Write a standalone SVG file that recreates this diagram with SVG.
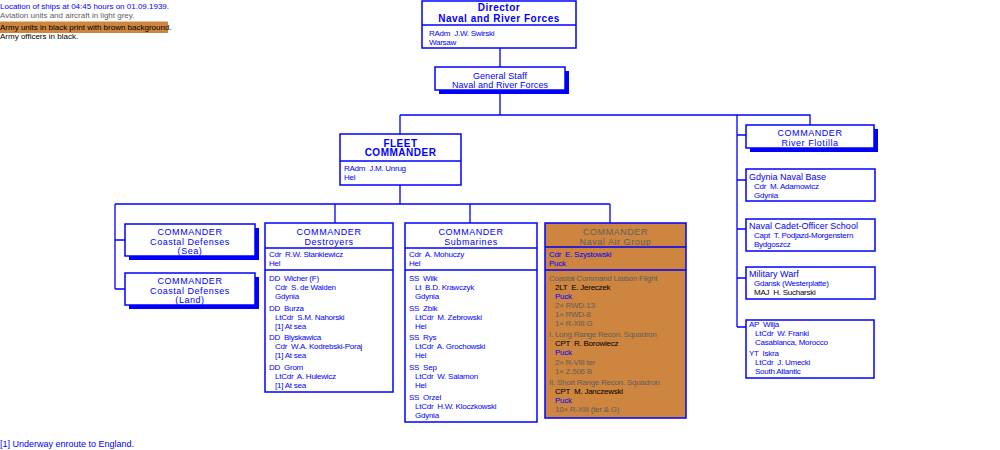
<svg xmlns="http://www.w3.org/2000/svg" width="1000" height="450" viewBox="0 0 1000 450">
<style>
text{font-family:"Liberation Sans",Arial,sans-serif;fill:#00f;white-space:pre}
.lg{font-size:8px}
.ft{font-size:9px}
.tb{font-size:10px;font-weight:bold;text-anchor:middle;letter-spacing:.5px}
.t{font-size:9px;text-anchor:middle;letter-spacing:.55px}
.ts{font-size:9px;text-anchor:middle;letter-spacing:.1px}
.h{font-size:9px}
.b{font-size:8px;letter-spacing:-.25px}
.k{fill:#000}
.g{fill:#606060}
.box{fill:#fff;stroke:#00f;stroke-width:1.5}
.brn{fill:#CD853F;stroke:#00f;stroke-width:1.5}
.sh{fill:#00f}
.dv{stroke:#00f;stroke-width:1.5}
</style>

<g id="legend">
<text class="lg" x="0" y="9">Location of ships at 04:45 hours on 01.09.1939.</text>
<text class="lg g" x="0" y="18">Aviation units and aircraft in light grey.</text>
<rect x="0" y="21.5" width="168" height="11.5" fill="#CD853F"/>
<text class="lg k" x="0" y="29.5">Army units in black print with brown background.</text>
<text class="lg k" x="0" y="38.5">Army officers in black.</text>
</g>

<g id="connectors" stroke="#00f" stroke-width="1.3" fill="none">
<path d="M500 48V67M500 90V115M400 115H810V125M737 115V327M737 135H746M737 180H746M737 229H746M737 278H746M737 327H746"/>
<path d="M400 115V134M400 185V204M115 204H610M115 204V289M115 240H125M115 289H125M335 204V223M470 204V223M610 204V223"/>
</g>

<g id="director">
<rect class="box" x="422" y="1" width="154" height="47"/>
<line class="dv" x1="422" y1="25" x2="576" y2="25"/>
<text class="tb" x="499" y="11">Director</text>
<text class="tb" x="499" y="21.5">Naval and River Forces</text>
<text class="b" x="429" y="36">RAdm  J.W. Swirski</text>
<text class="b" x="429" y="45">Warsaw</text>
</g>

<g id="general-staff">
<rect class="sh" x="439" y="71" width="130" height="23"/>
<rect class="box" x="435" y="67" width="130" height="23"/>
<text class="ts" x="500" y="79">General Staff</text>
<text class="ts" x="500" y="88">Naval and River Forces</text>
</g>

<g id="fleet-commander">
<rect class="box" x="340" y="134" width="121" height="51"/>
<line class="dv" x1="340" y1="161" x2="461" y2="161"/>
<text class="tb" x="400.5" y="146.5">FLEET</text>
<text class="tb" x="400.5" y="156">COMMANDER</text>
<text class="b" x="344" y="171">RAdm  J.M. Unrug</text>
<text class="b" x="344" y="180">Hel</text>
</g>

<g id="coastal-sea">
<rect class="sh" x="129" y="228" width="130" height="32"/>
<rect class="box" x="125" y="224" width="130" height="32"/>
<text class="t" x="190" y="235">COMMANDER</text>
<text class="t" x="190" y="244.5">Coastal Defenses</text>
<text class="t" x="190" y="254">(Sea)</text>
</g>

<g id="coastal-land">
<rect class="sh" x="129" y="277" width="130" height="32"/>
<rect class="box" x="125" y="273" width="130" height="32"/>
<text class="t" x="190" y="284">COMMANDER</text>
<text class="t" x="190" y="293.5">Coastal Defenses</text>
<text class="t" x="190" y="303">(Land)</text>
</g>

<g id="destroyers">
<rect class="box" x="265" y="223" width="128" height="169"/>
<line class="dv" x1="265" y1="248" x2="393" y2="248"/>
<line class="dv" x1="265" y1="270" x2="393" y2="270"/>
<text class="t" x="329" y="235">COMMANDER</text>
<text class="t" x="329" y="244.5">Destroyers</text>
<text class="b" x="269" y="257">Cdr  R.W. Stankiewicz</text>
<text class="b" x="269" y="266">Hel</text>
<text class="b" x="269" y="281">DD  Wicher (F)</text>
<text class="b" x="275" y="290">Cdr  S. de Walden</text>
<text class="b" x="275" y="299">Gdynia</text>
<text class="b" x="269" y="310.5">DD  Burza</text>
<text class="b" x="275" y="319.5">LtCdr  S.M. Nahorski</text>
<text class="b" x="275" y="328.5">[1] At sea</text>
<text class="b" x="269" y="340">DD  Blyskawica</text>
<text class="b" x="275" y="349">Cdr  W.A. Kodrebski-Poraj</text>
<text class="b" x="275" y="358">[1] At sea</text>
<text class="b" x="269" y="370">DD  Grom</text>
<text class="b" x="275" y="379">LtCdr  A. Hulewicz</text>
<text class="b" x="275" y="388">[1] At sea</text>
</g>

<g id="submarines">
<rect class="box" x="405" y="223" width="132" height="199"/>
<line class="dv" x1="405" y1="248" x2="537" y2="248"/>
<line class="dv" x1="405" y1="270" x2="537" y2="270"/>
<text class="t" x="471" y="235">COMMANDER</text>
<text class="t" x="471" y="244.5">Submarines</text>
<text class="b" x="409" y="257">Cdr  A. Mohuczy</text>
<text class="b" x="409" y="266">Hel</text>
<text class="b" x="409" y="281">SS  Wilk</text>
<text class="b" x="415" y="290">Lt  B.D. Krawczyk</text>
<text class="b" x="415" y="299">Gdynia</text>
<text class="b" x="409" y="310.5">SS  Zbik</text>
<text class="b" x="415" y="319.5">LtCdr  M. Zebrowski</text>
<text class="b" x="415" y="328.5">Hel</text>
<text class="b" x="409" y="340">SS  Rys</text>
<text class="b" x="415" y="349">LtCdr  A. Grochowski</text>
<text class="b" x="415" y="358">Hel</text>
<text class="b" x="409" y="370">SS  Sep</text>
<text class="b" x="415" y="379">LtCdr  W. Salamon</text>
<text class="b" x="415" y="388">Hel</text>
<text class="b" x="409" y="400">SS  Orzel</text>
<text class="b" x="415" y="409">LtCdr  H.W. Kloczkowski</text>
<text class="b" x="415" y="418">Gdynia</text>
</g>

<g id="naval-air-group">
<rect class="brn" x="545" y="223" width="141" height="195"/>
<line class="dv" x1="545" y1="247" x2="686" y2="247"/>
<line class="dv" x1="545" y1="270" x2="686" y2="270"/>
<text class="t g" x="615.5" y="235">COMMANDER</text>
<text class="t g" x="615.5" y="244.5">Naval Air Group</text>
<text class="b" x="549" y="257">Cdr  E. Szystowski</text>
<text class="b" x="549" y="266">Puck</text>
<text class="b g" x="549" y="281">Coastal Command Liaison Flight</text>
<text class="b k" x="555" y="290">2LT  E. Jereczek</text>
<text class="b" x="555" y="299">Puck</text>
<text class="b g" x="555" y="308">2× RWD-13</text>
<text class="b g" x="555" y="317">1× RWD-8</text>
<text class="b g" x="555" y="326">1× R-XIII G</text>
<text class="b g" x="549" y="337">I. Long Range Recon. Squadron</text>
<text class="b k" x="555" y="346">CPT  R. Borowiecz</text>
<text class="b" x="555" y="355">Puck</text>
<text class="b g" x="555" y="364.5">2× R-VIII ter</text>
<text class="b g" x="555" y="373.5">1× Z.506 B</text>
<text class="b g" x="549" y="385">II. Short Range Recon. Squadron</text>
<text class="b k" x="555" y="394">CPT  M. Janczewski</text>
<text class="b" x="555" y="403">Puck</text>
<text class="b g" x="555" y="412">10× R-XIII (ter &amp; G)</text>
</g>

<g id="river-flotilla">
<rect class="sh" x="750" y="129" width="128" height="23"/>
<rect class="box" x="746" y="125" width="128" height="23"/>
<text class="t" x="810" y="136">COMMANDER</text>
<text class="t" x="810" y="145.5">River Flotilla</text>
</g>

<g id="gdynia-naval-base">
<rect class="box" x="746" y="169" width="129" height="32"/>
<text class="h" x="749" y="179.5">Gdynia Naval Base</text>
<text class="b" x="754" y="188.5">Cdr  M. Adamowicz</text>
<text class="b" x="754" y="197.5">Gdynia</text>
</g>

<g id="naval-cadet-school">
<rect class="box" x="746" y="219" width="129" height="32"/>
<text class="h" x="749" y="228.5">Naval Cadet-Officer School</text>
<text class="b" x="754" y="237.5">Capt  T. Podjazd-Morgenstern</text>
<text class="b" x="754" y="246.5">Bydgoszcz</text>
</g>

<g id="military-warf">
<rect class="box" x="746" y="267" width="129" height="32"/>
<text class="h" x="749" y="277">Military Warf</text>
<text class="b" x="754" y="286">Gdansk (Westerplatte)</text>
<text class="b k" x="754" y="295">MAJ  H. Sucharski</text>
</g>

<g id="ships-abroad">
<rect class="box" x="746" y="320" width="128" height="58"/>
<text class="b" x="749" y="327">AP  Wilja</text>
<text class="b" x="755" y="336">LtCdr  W. Franki</text>
<text class="b" x="755" y="345">Casablanca, Morocco</text>
<text class="b" x="749" y="355.5">YT  Iskra</text>
<text class="b" x="755" y="364.5">LtCdr  J. Umecki</text>
<text class="b" x="755" y="373.5">South Atlantic</text>
</g>

<g id="footnote">
<text class="ft" x="0" y="447">[1] Underway enroute to England.</text>
</g>
</svg>
